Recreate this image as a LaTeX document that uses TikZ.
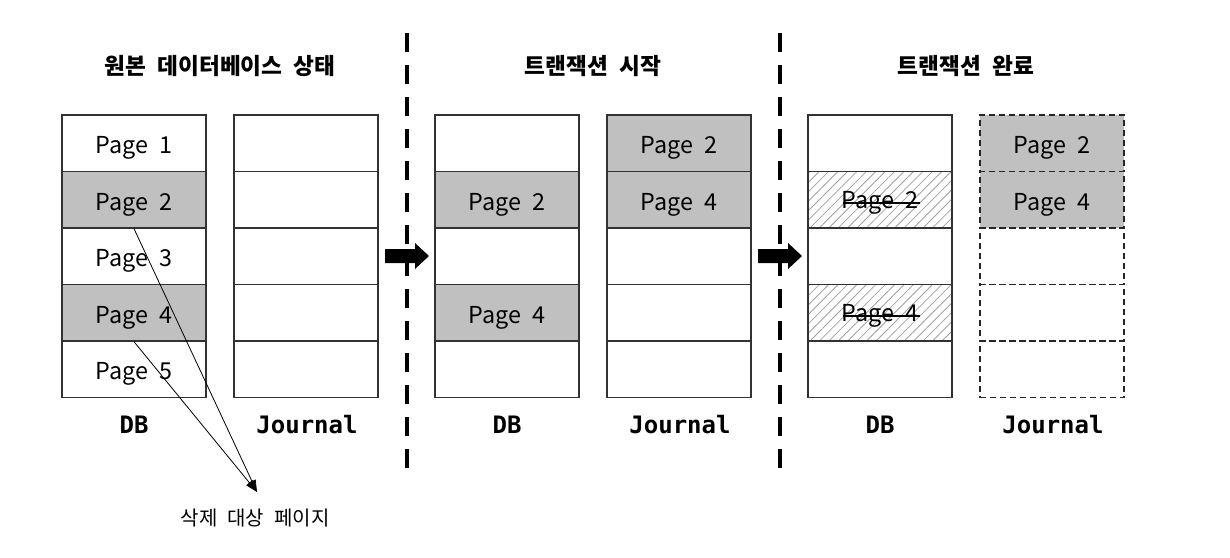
\documentclass[tikz,border=0pt]{standalone}
\usepackage{fontspec}
\setmainfont{Noto Sans CJK KR}
\newfontfamily\monofont{DejaVu Sans Mono}
\usetikzlibrary{patterns.meta,arrows.meta}
\definecolor{cellgrey}{RGB}{192,192,192}
\definecolor{hatchgrey}{RGB}{160,160,160}
\definecolor{edgegrey}{RGB}{50,50,50}
\newcommand{\pg}[1]{Page\hspace{0.5em}#1}
\newcommand{\ws}{\hspace{0.5em}}
\begin{document}
\begin{tikzpicture}[x=0.75pt,y=-0.75pt,
  cell/.style={draw=edgegrey,line width=1pt,minimum width=108pt,minimum height=42.4pt,inner sep=0pt,
    font=\fontsize{17.5}{17.5}\selectfont,text height=16pt,text depth=0pt},
  full/.style={fill=cellgrey},
  hatched/.style={pattern={Lines[angle=45,distance=5pt,line width=0.6pt]},pattern color=hatchgrey},
  dcell/.style={cell,dash pattern=on 4.5pt off 3pt,line width=1.1pt,draw=black!85},
  struck/.style={inner sep=0pt,font=\fontsize{17.5}{17.5}\selectfont},
  colname/.style={font=\monofont\bfseries\fontsize{18}{18}\selectfont},
  title/.style={font=\bfseries\fontsize{17}{17}\selectfont},
  sep/.style={line width=2.6pt,dash pattern=on 14.5pt off 9.5pt},
  blockarrow/.style={fill=black},
  pointer/.style={line width=0.6pt,-{Triangle[length=9pt,width=6pt]}}
]
\useasboundingbox (0,0) rectangle (1230,557);
% column 1 : DB
\node[cell] (a1) at (134,143.25) {\pg{1}};
\node[cell,full] (a2) at (134,199.75) {\pg{2}};
\node[cell] (a3) at (134,256.25) {\pg{3}};
\node[cell,full] (a4) at (134,312.75) {\pg{4}};
\node[cell] (a5) at (134,369.25) {\pg{5}};
% column 1 : Journal
\node[cell] (b1) at (306,143.25) {};
\node[cell] (b2) at (306,199.75) {};
\node[cell] (b3) at (306,256.25) {};
\node[cell] (b4) at (306,312.75) {};
\node[cell] (b5) at (306,369.25) {};
% column 2 : DB
\node[cell] (c1) at (507,143.25) {};
\node[cell,full] (c2) at (507,199.75) {\pg{2}};
\node[cell] (c3) at (507,256.25) {};
\node[cell,full] (c4) at (507,312.75) {\pg{4}};
\node[cell] (c5) at (507,369.25) {};
% column 2 : Journal
\node[cell,full] (d1) at (679,143.25) {\pg{2}};
\node[cell,full] (d2) at (679,199.75) {\pg{4}};
\node[cell] (d3) at (679,256.25) {};
\node[cell] (d4) at (679,312.75) {};
\node[cell] (d5) at (679,369.25) {};
% column 3 : DB
\node[cell] (e1) at (880,143.25) {};
\node[cell,hatched] (e2) at (880,199.75) {};
\node[cell] (e3) at (880,256.25) {};
\node[cell,hatched] (e4) at (880,312.75) {};
\node[cell] (e5) at (880,369.25) {};
\node[struck] (s2) at (880,203) {Page\hspace{0.5em}2};
\node[struck] (s4) at (880,316) {Page\hspace{0.5em}4};
\draw[line width=0.8pt] ([xshift=1pt]s2.west) -- ([xshift=1pt]s2.east);
\draw[line width=0.8pt] ([xshift=1pt]s4.west) -- ([xshift=1pt]s4.east);
% column 3 : Journal (dashed)
\node[dcell,full] (f1) at (1052,143.25) {\pg{2}};
\node[dcell,full] (f2) at (1052,199.75) {\pg{4}};
\node[dcell] (f3) at (1052,256.25) {};
\node[dcell] (f4) at (1052,312.75) {};
\node[dcell] (f5) at (1052,369.25) {};
% column labels
\node[colname] (la) at (134,425) {DB};
\node[colname] (lb) at (307,425) {Journal};
\node[colname] (lc) at (507,425) {DB};
\node[colname] (ld) at (680,425) {Journal};
\node[colname] (le) at (880,425) {DB};
\node[colname] (lf) at (1053,425) {Journal};
% titles
\node[title] (t1) at (220,66) {원본\ws 데이터베이스\ws 상태};
\node[title] (t2) at (593,66) {트랜잭션\ws 시작};
\node[title] (t3) at (966,66) {트랜잭션\ws 완료};
% separators
\coordinate (s1top) at (407,33);
\coordinate (s1bot) at (407,476);
\coordinate (s2top) at (780,33);
\coordinate (s2bot) at (780,476);
\draw[sep] (s1top) -- (s1bot);
\draw[sep] (s2top) -- (s2bot);
% block arrows
\fill[blockarrow] (385,249) -- (415,249) -- (415,243) -- (429,256) -- (415,269) -- (415,263) -- (385,263) -- cycle;
\fill[blockarrow] (758,249) -- (788,249) -- (788,243) -- (802,256) -- (788,269) -- (788,263) -- (758,263) -- cycle;
% deletion pointer
\node (del) at (255,518) {\fontsize{15}{15}\selectfont 삭제\ws 대상\ws 페이지};
\coordinate (tip) at (257,492);
\draw[pointer] (a2.south) -- (tip);
\draw[pointer] (a4.south) -- (tip);
\end{tikzpicture}
\end{document}
